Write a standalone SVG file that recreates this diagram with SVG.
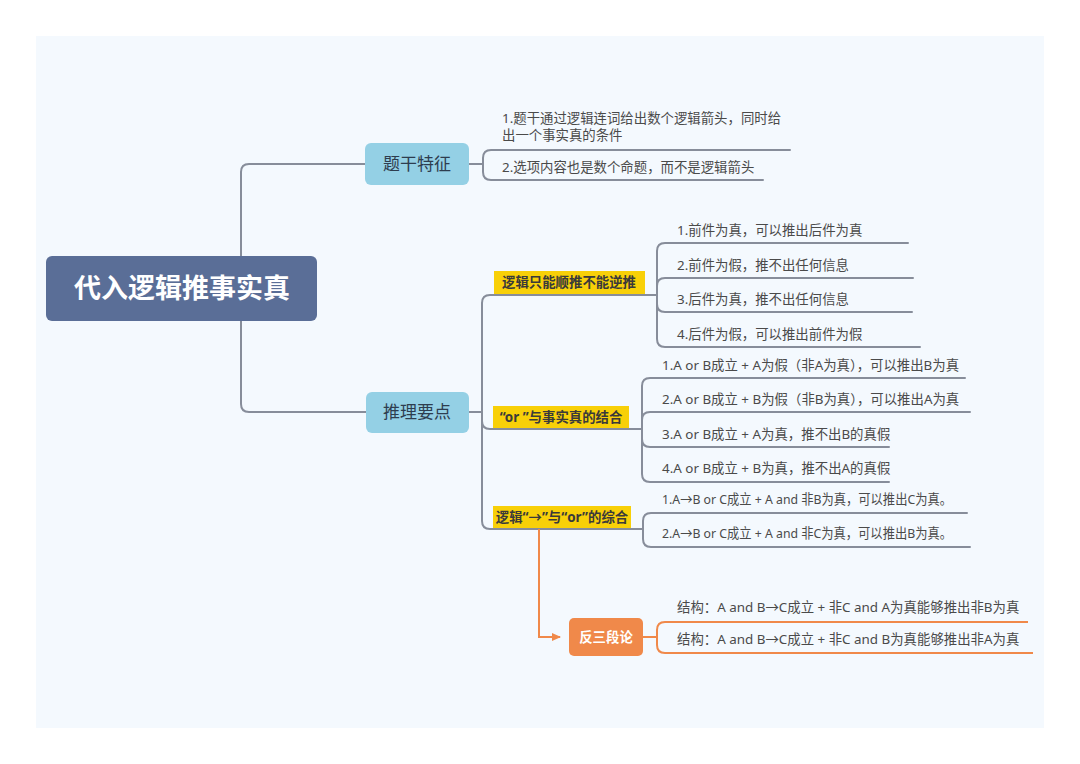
<svg xmlns="http://www.w3.org/2000/svg" width="1080" height="764" viewBox="0 0 1080 764">
<defs>
<style>
.ln{fill:none;stroke:#878d9a;stroke-width:2;stroke-linecap:round}
.or{fill:none;stroke:#f0894a;stroke-width:2}
.t{font-family:"Noto Sans","Noto Sans CJK SC",sans-serif;font-size:13.4px;fill:#4a4a4a}
.yl{font-family:"Noto Sans","Noto Sans CJK SC",sans-serif;font-size:13.4px;font-weight:bold;fill:#3a3a3a}
.mid{font-family:"Noto Sans CJK SC",sans-serif;font-size:17px;fill:#2e3d4f}
</style>
<marker id="ah" markerWidth="10" markerHeight="10" refX="8" refY="5" orient="auto" markerUnits="userSpaceOnUse">
<path d="M0,1 L9,5 L0,9 Z" fill="#f0894a"/>
</marker>
</defs>
<rect x="0" y="0" width="1080" height="764" fill="#ffffff"/>
<rect x="36" y="36" width="1008" height="692" fill="#f4f9fe"/>

<g id="connectors">
<path class="ln" d="M241,256 V172 Q241,164 249,164 H366"/>
<path class="ln" d="M241,321 V404 Q241,412 249,412 H366"/>
<path class="ln" d="M469,164 H483"/>
<path class="ln" d="M790,150 H491 Q483,150 483,158 V172 Q483,180 491,180 H763"/>
<path class="ln" d="M469,412 H482"/>
<path class="ln" d="M656,295 H490 Q482,295 482,303 V521 Q482,529 490,529 H643"/>
<path class="ln" d="M482,421 Q482,429 490,429 H642"/>
<path class="ln" d="M908,243 H665 Q657,243 657,251 V339 Q657,347 665,347 H920"/>
<path class="ln" d="M913,278 H665 Q657,278 657,286"/>
<path class="ln" d="M912,312 H665 Q657,312 657,304"/>
<path class="ln" d="M965,378 H650 Q642,378 642,386 V474 Q642,482 650,482 H889"/>
<path class="ln" d="M970,412 H650 Q642,412 642,420"/>
<path class="ln" d="M889,447 H650 Q642,447 642,439"/>
<path class="ln" d="M967,513 H651 Q643,513 643,521 V539 Q643,547 651,547 H970"/>
<path class="or" d="M539,529 V637 H560" marker-end="url(#ah)"/>
<path class="or" d="M643,637 H657"/>
<path class="or" d="M1028,622 H665 Q657,622 657,630 V645 Q657,653 665,653 H1033"/>
</g>

<g id="root">
<rect x="46" y="256" width="271" height="65" rx="6" fill="#5a6e97"/>
<text x="182" y="298" text-anchor="middle" font-family="Noto Sans CJK SC,sans-serif" font-size="27" font-weight="bold" fill="#ffffff">代入逻辑推事实真</text>
</g>

<g id="n-tigan">
<rect x="365" y="143" width="104" height="42" rx="6" fill="#94d0e5"/>
<text class="mid" x="417" y="170" text-anchor="middle">题干特征</text>
</g>
<g id="n-tigan-1">
<text class="t" x="502" y="123">1.题干通过逻辑连词给出数个逻辑箭头，同时给</text>
<text class="t" x="502" y="140">出一个事实真的条件</text>
</g>
<g id="n-tigan-2">
<text class="t" x="502" y="172">2.选项内容也是数个命题，而不是逻辑箭头</text>
</g>

<g id="n-tuili">
<rect x="366" y="392" width="103" height="41" rx="6" fill="#94d0e5"/>
<text class="mid" x="417" y="418" text-anchor="middle">推理要点</text>
</g>

<g id="n-b1">
<rect x="494" y="271" width="151" height="23" fill="#f8d008"/>
<text class="yl" x="569" y="287" text-anchor="middle">逻辑只能顺推不能逆推</text>
</g>
<g id="n-b1-1"><text class="t" x="677" y="235">1.前件为真，可以推出后件为真</text></g>
<g id="n-b1-2"><text class="t" x="677" y="270">2.前件为假，推不出任何信息</text></g>
<g id="n-b1-3"><text class="t" x="677" y="304">3.后件为真，推不出任何信息</text></g>
<g id="n-b1-4"><text class="t" x="677" y="339">4.后件为假，可以推出前件为假</text></g>

<g id="n-b2">
<rect x="493" y="406" width="136" height="22" fill="#f8d008"/>
<text class="yl" x="561" y="422" text-anchor="middle">“or ”与事实真的结合</text>
</g>
<g id="n-b2-1"><text class="t" x="662" y="370">1.A or B成立 + A为假（非A为真），可以推出B为真</text></g>
<g id="n-b2-2"><text class="t" x="662" y="404">2.A or B成立 + B为假（非B为真），可以推出A为真</text></g>
<g id="n-b2-3"><text class="t" x="662" y="439">3.A or B成立 + A为真，推不出B的真假</text></g>
<g id="n-b2-4"><text class="t" x="662" y="473">4.A or B成立 + B为真，推不出A的真假</text></g>

<g id="n-b3">
<rect x="493" y="506" width="138" height="22" fill="#f8d008"/>
<text class="yl" x="562" y="522" text-anchor="middle">逻辑“→”与“or”的综合</text>
</g>
<g id="n-b3-1"><text class="t" x="662" y="504" textLength="290" lengthAdjust="spacingAndGlyphs">1.A→B or C成立 + A and 非B为真，可以推出C为真。</text></g>
<g id="n-b3-2"><text class="t" x="662" y="538" textLength="290" lengthAdjust="spacingAndGlyphs">2.A→B or C成立 + A and 非C为真，可以推出B为真。</text></g>

<g id="n-fan">
<rect x="569" y="618" width="74" height="38" rx="5" fill="#f0894a"/>
<text x="606" y="642" text-anchor="middle" font-family="Noto Sans CJK SC,sans-serif" font-size="13.4" font-weight="bold" fill="#ffffff">反三段论</text>
</g>
<g id="n-fan-1"><text class="t" x="677" y="612">结构：A and B→C成立 + 非C and A为真能够推出非B为真</text></g>
<g id="n-fan-2"><text class="t" x="677" y="644">结构：A and B→C成立 + 非C and B为真能够推出非A为真</text></g>
</svg>
